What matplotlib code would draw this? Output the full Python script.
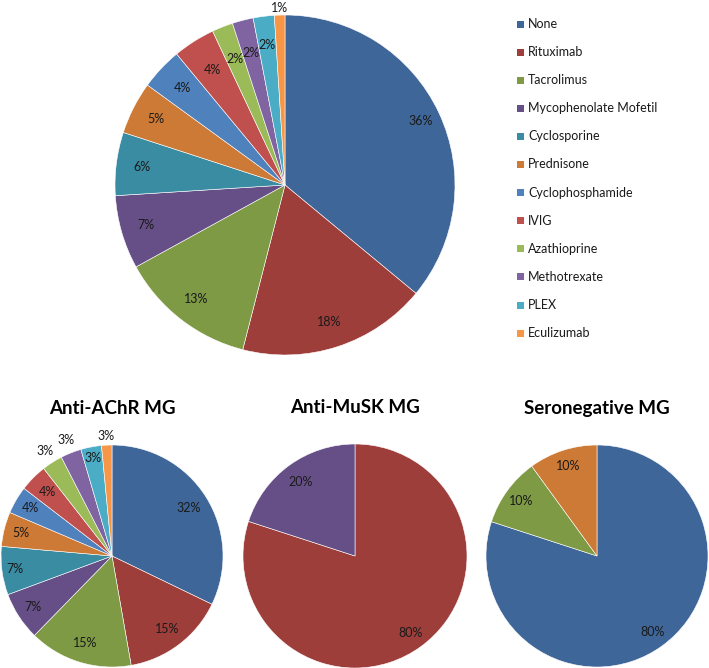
import matplotlib
matplotlib.use("Agg")
from matplotlib import pyplot as plt
from matplotlib.patches import Rectangle
import numpy as np

plt.rcParams['font.family'] = ['Lato', 'DejaVu Sans']

W, H = 709, 668

treatments = ["None", "Rituximab", "Tacrolimus", "Mycophenolate Mofetil",
              "Cyclosporine", "Prednisone", "Cyclophosphamide", "IVIG",
              "Azathioprine", "Methotrexate", "PLEX", "Eculizumab"]
colors = ["#3F6699", "#9E3E3B", "#7E9A45", "#664F86", "#3A8CA3", "#CC7A35",
          "#4F81BD", "#C0504D", "#9BBB59", "#8064A2", "#4BACC6", "#F79646"]

# overall
all_values = [36, 18, 13, 7, 6, 5, 4, 4, 2, 2, 2, 1]
all_labels = ["36%", "18%", "13%", "7%", "6%", "5%", "4%", "4%", "2%", "2%", "2%", "1%"]

# Anti-AChR MG
achr_values = [32, 15, 15, 7, 7, 5, 4, 4, 3, 3, 3, 1.5]
achr_labels = ["32%", "15%", "15%", "7%", "7%", "5%", "4%", "4%", "3%", "3%", "3%", "3%"]

# Anti-MuSK MG
musk_names = ["Rituximab", "Mycophenolate Mofetil"]
musk_values = [80, 20]
musk_labels = ["80%", "20%"]

# Seronegative MG
sero_names = ["None", "Tacrolimus", "Prednisone"]
sero_values = [80, 10, 10]
sero_labels = ["80%", "10%", "10%"]


def pie_axes(fig, cx, cy, r):
    ax = fig.add_axes([(cx - r) / W, 1 - (cy + r) / H, 2 * r / W, 2 * r / H])
    return ax


def draw_pie(ax, values, cols, labels, dists, fs=9):
    wedges, _ = ax.pie(values, colors=cols, startangle=90, counterclock=False,
                       radius=1, wedgeprops=dict(edgecolor='white', linewidth=0.4))
    ax.set_xlim(-1, 1)
    ax.set_ylim(-1, 1)
    ax.axis('off')
    for w, lab, d in zip(wedges, labels, dists):
        ang = np.deg2rad((w.theta1 + w.theta2) / 2)
        ax.text(d * np.cos(ang), d * np.sin(ang), lab, ha='center', va='center',
                fontsize=fs, color='#1a1a1a')


fig = plt.figure(figsize=(W / 100, H / 100), dpi=100)

ax0 = pie_axes(fig, 285, 185, 170)
draw_pie(ax0, all_values, colors, all_labels,
         [0.88, 0.85, 0.85, 0.85, 0.85, 0.85, 0.83, 0.8, 0.8, 0.8, 0.83, 1.04])

# legend
for i, (name, c) in enumerate(zip(treatments, colors)):
    y = 24 + i * 28.1
    fig.patches.append(Rectangle(((517) / W, 1 - (y + 3.5) / H), 7 / W, 7 / H,
                                 transform=fig.transFigure, facecolor=c, edgecolor='none'))
    fig.text(528 / W, 1 - y / H, name, fontsize=9, va='center', ha='left', color='#1a1a1a')

ax1 = pie_axes(fig, 112, 556, 111)
draw_pie(ax1, achr_values, colors, achr_labels,
         [0.82, 0.82, 0.82, 0.85, 0.88, 0.85, 0.85, 0.82, 1.12, 1.12, 0.9, 1.08])
ax1.set_title("Anti-AChR MG", fontsize=13.5, fontweight='bold', pad=22)

musk_cols = [colors[treatments.index(n)] for n in musk_names]
ax2 = pie_axes(fig, 355, 556, 112)
draw_pie(ax2, musk_values, musk_cols, musk_labels, [0.85, 0.82])
ax2.set_title("Anti-MuSK MG", fontsize=13.5, fontweight='bold', pad=22)

sero_cols = [colors[treatments.index(n)] for n in sero_names]
ax3 = pie_axes(fig, 597, 556, 111)
draw_pie(ax3, sero_values, sero_cols, sero_labels, [0.85, 0.85, 0.85])
ax3.set_title("Seronegative MG", fontsize=13.5, fontweight='bold', pad=22)

fig.savefig("out.png", dpi=100)
